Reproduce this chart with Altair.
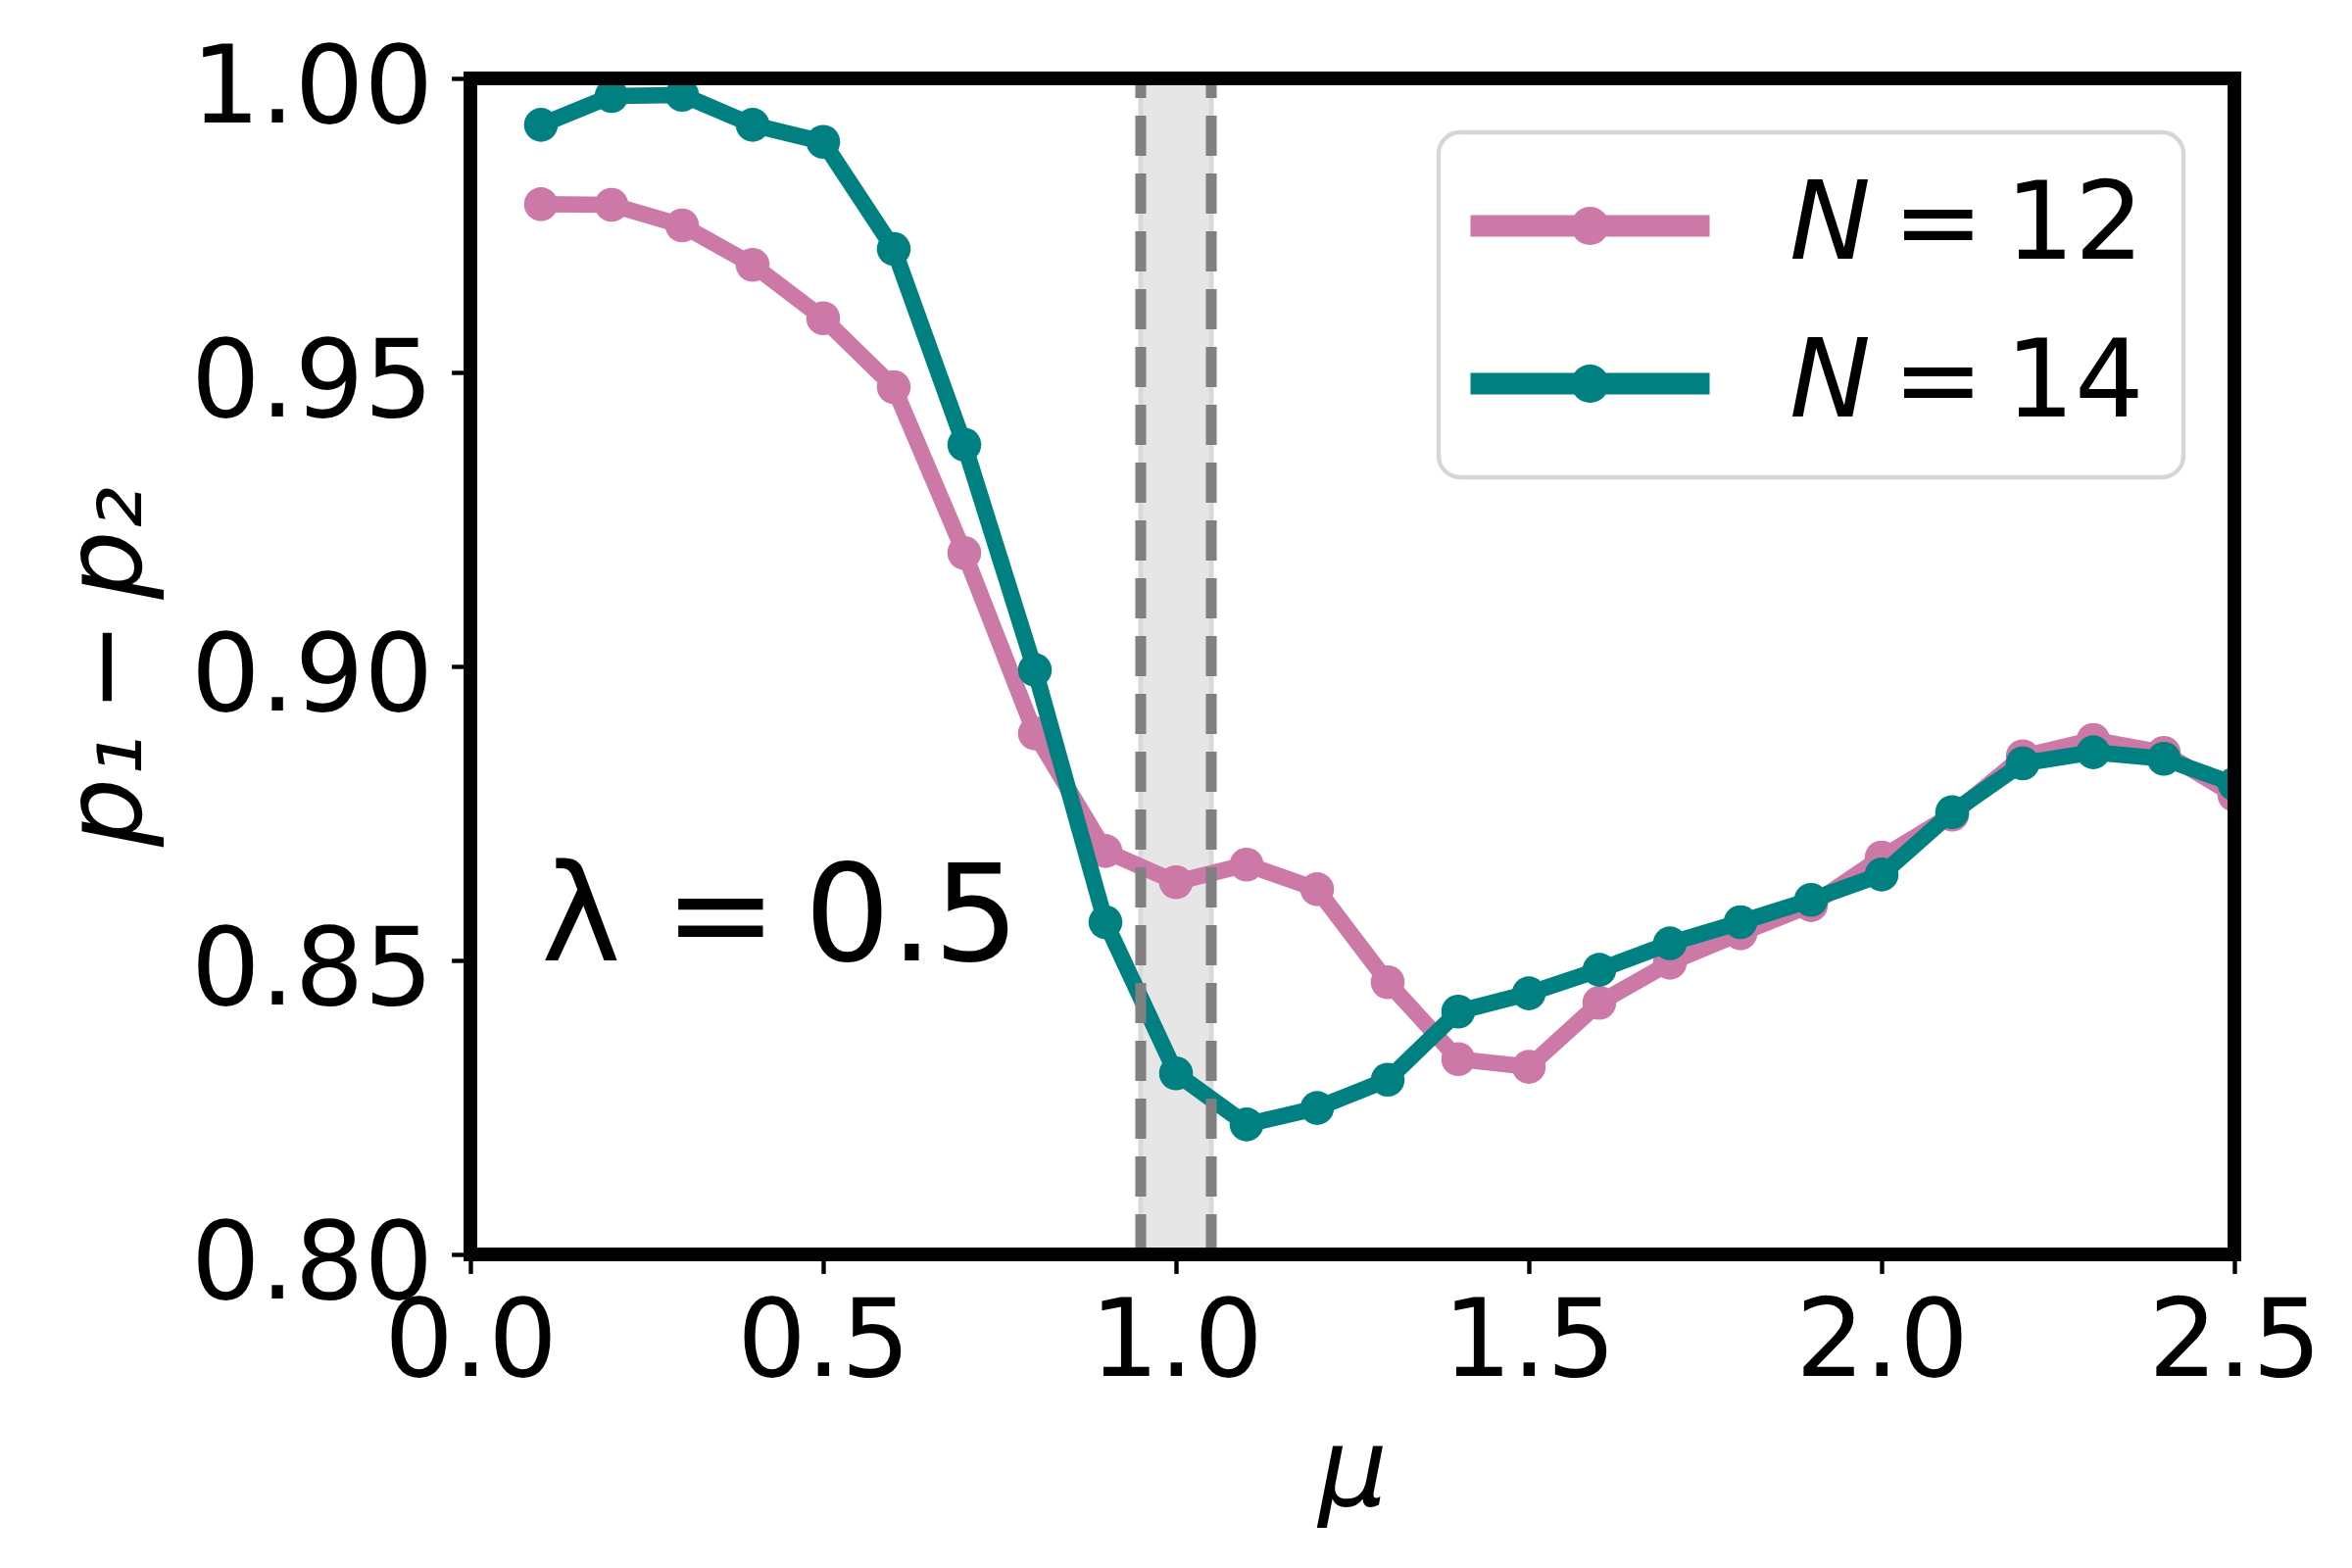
import altair as alt
import pandas as pd

# ---------------- data ----------------
MU = [0.1, 0.2, 0.3, 0.4, 0.5, 0.6, 0.7, 0.8, 0.9, 1.0, 1.1, 1.2, 1.3,
      1.4, 1.5, 1.6, 1.7, 1.8, 1.9, 2.0, 2.1, 2.2, 2.3, 2.4, 2.5]
P_N12 = [0.9786, 0.9785, 0.9750, 0.9683, 0.9592, 0.9475, 0.9193, 0.8886,
         0.8686, 0.8633, 0.8663, 0.8621, 0.8463, 0.8332, 0.8319, 0.8428,
         0.8496, 0.8546, 0.8594, 0.8675, 0.8748, 0.8847, 0.8875, 0.8853, 0.8781]
P_N14 = [0.9921, 0.9970, 0.9972, 0.9921, 0.9892, 0.9710, 0.9377, 0.8994,
         0.8565, 0.8308, 0.8221, 0.8249, 0.8297, 0.8413, 0.8444, 0.8484,
         0.8529, 0.8565, 0.8603, 0.8646, 0.8752, 0.8835, 0.8854, 0.8843, 0.8800]
SERIES = ["\U0001D615\u2009=\u200912", "\U0001D615\u2009=\u200914"]
COLORS = ["#CC79A7", "#008080"]

X_DOMAIN = [0.0, 2.5]
Y_DOMAIN = [0.80, 1.00]
X_TICKS = [0.0, 0.5, 1.0, 1.5, 2.0, 2.5]
Y_TICKS = [0.80, 0.85, 0.90, 0.95, 1.00]
BAND = [0.95, 1.05]
ANNOT_X = [0.1]
ANNOT_Y = [0.85]
ANNOT_TEXT = ["\u03bb =\u20090.5"]
X_TITLE = "\u03bc"
Y_TITLE = "p\u2081\u2009\u2212\u2009p\u2082"

FONT = "DejaVu Sans"
W, H = 1800, 1200

# ---------------- tables ----------------
rows = []
for name, vals in zip(SERIES, [P_N12, P_N14]):
    for m, v in zip(MU, vals):
        rows.append({"mu": m, "p": v, "series": name})
df = pd.DataFrame(rows)

band_df = pd.DataFrame({"lo": [BAND[0]], "hi": [BAND[1]],
                        "ylo": [Y_DOMAIN[0]], "yhi": [Y_DOMAIN[1]]})
rule_df = pd.DataFrame({"x": BAND, "ylo": [Y_DOMAIN[0]] * len(BAND),
                        "yhi": [Y_DOMAIN[1]] * len(BAND)})
frame_df = pd.DataFrame({"x0": [X_DOMAIN[0]], "x1": [X_DOMAIN[1]],
                         "y0": [Y_DOMAIN[0]], "y1": [Y_DOMAIN[1]]})
ann_df = pd.DataFrame({"x": ANNOT_X, "y": ANNOT_Y, "t": ANNOT_TEXT})

# ---------------- scales / axes ----------------
xscale = alt.Scale(domain=X_DOMAIN, nice=False, zero=False)
yscale = alt.Scale(domain=Y_DOMAIN, nice=False, zero=False)

common_axis = dict(
    labelFont=FONT, labelFontSize=111, labelColor="black", labelLimit=1000,
    titleFont=FONT, titleFontSize=111, titleColor="black",
    titleFontWeight="normal", titleFontStyle="italic", titleLimit=2000,
    ticks=True, tickSize=19.4, tickWidth=4.4, tickColor="black",
    domain=False, grid=False, labelFlush=False, labelOverlap=False,
)
x_axis = alt.Axis(values=X_TICKS, format=".1f", title=X_TITLE,
                  labelBaseline="alphabetic", labelPadding=104,
                  titleX=W / 2, titleY=255, titleBaseline="alphabetic",
                  titleAlign="center", **common_axis)
y_axis = alt.Axis(values=Y_TICKS, format=".2f", title=Y_TITLE,
                  labelBaseline="alphabetic", labelOffset=44, labelPadding=19,
                  titleX=-337, titleY=H / 2, titleAngle=270,
                  titleBaseline="alphabetic", titleAlign="center",
                  **common_axis)


def X(f):
    return alt.X(f, type="quantitative", scale=xscale, axis=x_axis)


def Y(f):
    return alt.Y(f, type="quantitative", scale=yscale, axis=y_axis)


cscale = alt.Scale(domain=SERIES, range=COLORS)
SYMBOL_PATH = ("M-6.1,0H6.1"
               "M0.425,0A0.425,0.425,0,1,1,-0.425,0A0.425,0.425,0,1,1,0.425,0Z"
               "M0.1,0A0.1,0.1,0,1,1,-0.1,0A0.1,0.1,0,1,1,0.1,0Z")
legend = alt.Legend(
    title=None, orient="none", legendX=988, legendY=55, direction="vertical",
    symbolType=SYMBOL_PATH, symbolSize=1600, symbolStrokeWidth=22,
    symbolOffset=59, labelOffset=148, labelFont=FONT, labelFontSize=111,
    labelColor="black", labelLimit=1000, rowPadding=49, padding=40,
    fillColor="white", strokeColor="#d6d6d6", cornerRadius=22,
)

# ---------------- layers ----------------
band = alt.Chart(band_df).mark_rect(
    fill="#e6e6e6", stroke="#d9d9d9", strokeWidth=5
).encode(x=X("lo"), x2=alt.X2("hi"), y=Y("ylo"), y2=alt.Y2("yhi"))

layers = [band]
for name in SERIES:
    base = alt.Chart(df).transform_filter(alt.datum.series == name)
    line = base.mark_line(strokeWidth=16.7, strokeJoin="round", clip=True).encode(
        x=X("mu"), y=Y("p"),
        color=alt.Color("series:N", scale=cscale, legend=legend))
    pts = base.mark_point(filled=True, size=1195, opacity=1, strokeWidth=0,
                          clip=True).encode(
        x=X("mu"), y=Y("p"),
        color=alt.Color("series:N", scale=cscale, legend=None))
    layers += [line, pts]

rules = alt.Chart(rule_df).mark_rule(
    color="#808080", strokeWidth=11.1, strokeDash=[41, 18]
).encode(x=X("x"), y=Y("ylo"), y2=alt.Y2("yhi"))

ann = alt.Chart(ann_df).mark_text(
    align="left", baseline="alphabetic", font=FONT, fontSize=138, color="black"
).encode(x=X("x"), y=Y("y"), text="t:N")

frame = alt.Chart(frame_df).mark_rect(
    fillOpacity=0, stroke="black", strokeWidth=13.9
).encode(x=X("x0"), x2=alt.X2("x1"), y=Y("y0"), y2=alt.Y2("y1"))

layers += [rules, ann, frame]

chart = alt.layer(*layers).properties(
    width=W, height=H,
    autosize=alt.AutoSizeParams(type="none"),
    padding={"left": 472, "top": 72, "right": 110, "bottom": 300},
    background="white",
).configure_view(strokeWidth=0).configure_legend(strokeWidth=4.4)

chart.save("out.html", embed_options={"renderer": "svg", "actions": False})
